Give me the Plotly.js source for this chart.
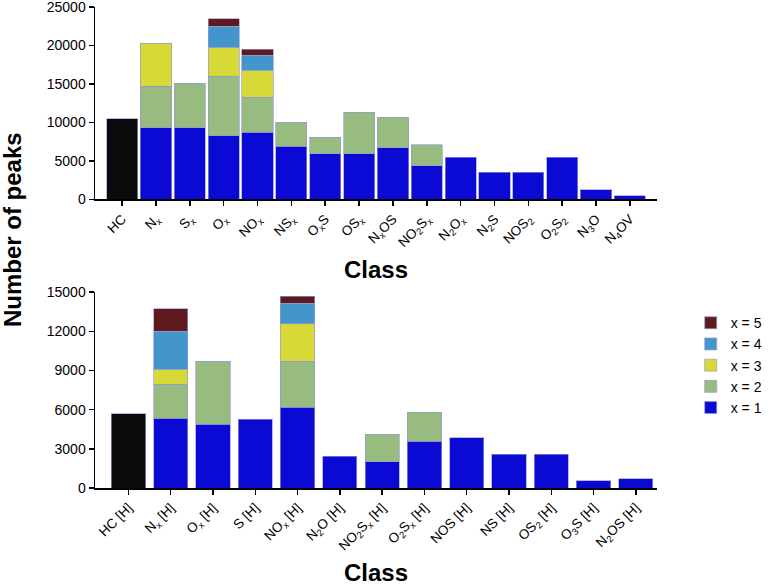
<!DOCTYPE html>
<html>
<head>
<meta charset="utf-8">
<script src="https://cdn.plot.ly/plotly-3.0.1.min.js"></script>
<style>
  body { margin: 0; background: #fff; }
  #root { width: 774px; height: 585px; }
</style>
</head>
<body>
<div id="root"></div>
<script>
// top panel: all classes
const topClasses = ['HC', 'N<sub>x</sub>', 'S<sub>x</sub>', 'O<sub>x</sub>', 'NO<sub>x</sub>', 'NS<sub>x</sub>',
    'O<sub>x</sub>S', 'OS<sub>x</sub>', 'N<sub>x</sub>OS', 'NO<sub>2</sub>S<sub>x</sub>', 'N<sub>2</sub>O<sub>x</sub>',
    'N<sub>2</sub>S', 'NOS<sub>2</sub>', 'O<sub>2</sub>S<sub>2</sub>', 'N<sub>3</sub>O', 'N<sub>4</sub>OV'];
const topHC = [10500, null, null, null, null, null, null, null, null, null, null, null, null, null, null, null];
const topX1 = [null, 9300, 9300, 8300, 8700, 6900, 5900, 5900, 6700, 4350, 5500, 3500, 3500, 5450, 1250, 500];
const topX2 = [null, 5400, 5800, 7700, 4600, 3100, 2150, 5400, 4000, 2750, null, null, null, null, null, null];
const topX3 = [null, 5600, null, 3800, 3450, null, null, null, null, null, null, null, null, null, null, null];
const topX4 = [null, null, null, 2700, 2000, null, null, null, null, null, null, null, null, null, null, null];
const topX5 = [null, null, null, 1000, 750, null, null, null, null, null, null, null, null, null, null, null];

// bottom panel: [H] classes
const botClasses = ['HC [H]', 'N<sub>x</sub> [H]', 'O<sub>x</sub> [H]', 'S [H]', 'NO<sub>x</sub> [H]', 'N<sub>2</sub>O [H]',
    'NO<sub>2</sub>S<sub>x</sub> [H]', 'O<sub>2</sub>S<sub>x</sub> [H]', 'NOS [H]', 'NS [H]', 'OS<sub>2</sub> [H]',
    'O<sub>3</sub>S [H]', 'N<sub>2</sub>OS [H]'];
const botHC = [5700, null, null, null, null, null, null, null, null, null, null, null, null];
const botX1 = [null, 5350, 4900, 5250, 6200, 2450, 2000, 3600, 3850, 2600, 2600, 550, 700];
const botX2 = [null, 2600, 4800, null, 3500, null, 2100, 2200, null, null, null, null, null];
const botX3 = [null, 1150, null, null, 2900, null, null, null, null, null, null, null, null];
const botX4 = [null, 2900, null, null, 1550, null, null, null, null, null, null, null, null];
const botX5 = [null, 1750, null, null, 550, null, null, null, null, null, null, null, null];

const seriesNames = ['x = 1', 'x = 2', 'x = 3', 'x = 4', 'x = 5'];
const seriesColors = ['#0a0ad4', '#98bb80', '#d7d936', '#4396cc', '#5f1a1e'];

const edge = {color: 'rgba(150,150,215,0.85)', width: 0.8};

function bars(x, y, name, color, xa, ya, w, legend) {
    return {
        type: 'bar', x: x, y: y, name: name,
        xaxis: xa, yaxis: ya, width: w,
        marker: {color: color, line: edge},
        showlegend: legend, legendgroup: name,
        hoverinfo: 'x+y+name'
    };
}

const topSeries = [topX1, topX2, topX3, topX4, topX5];
const botSeries = [botX1, botX2, botX3, botX4, botX5];

var data = [];
data.push(bars(topClasses, topHC, 'HC', '#0b0b0d', 'x', 'y', 0.92, false));
data.push(bars(botClasses, botHC, 'HC [H]', '#0b0b0d', 'x2', 'y2', 0.81, false));
for (let i = 0; i < 5; i++) {
    data.push(bars(topClasses, topSeries[i], seriesNames[i], seriesColors[i], 'x', 'y', 0.92, true));
    data.push(bars(botClasses, botSeries[i], seriesNames[i], seriesColors[i], 'x2', 'y2', 0.81, false));
}

const font = 'Liberation Sans, Arial, Helvetica, sans-serif';

const xCommon = {
    type: 'category', showline: true, linecolor: '#000', linewidth: 1.5,
    ticks: 'outside', ticklen: 5, tickwidth: 1.5, tickcolor: '#000',
    tickangle: -45, showgrid: false, zeroline: false,
    tickfont: {size: 13.5, color: '#000'}
};
const yCommon = {
    showline: true, linecolor: '#000', linewidth: 1.5,
    ticks: 'outside', ticklen: 5, tickwidth: 1.5, tickcolor: '#000',
    showgrid: false, zeroline: false, tickmode: 'linear', tick0: 0,
    tickformat: 'd', ticklabeloverflow: 'allow',
    tickfont: {size: 14, color: '#000'}
};

var layout = {
    width: 774, height: 585,
    margin: {l: 95, r: 100, t: 7, b: 97},
    paper_bgcolor: '#fff', plot_bgcolor: '#fff',
    font: {family: font, color: '#000'},
    barmode: 'stack',
    xaxis: Object.assign({}, xCommon, {domain: [0, 1], anchor: 'y', range: [-0.8, 15.8]}),
    yaxis: Object.assign({}, yCommon, {domain: [0.6, 1], anchor: 'x', range: [0, 25000.5], dtick: 5000}),
    xaxis2: Object.assign({}, xCommon, {domain: [0, 1], anchor: 'y2', range: [-0.79, 12.5]}),
    yaxis2: Object.assign({}, yCommon, {domain: [0, 0.407], anchor: 'x2', range: [0, 15000.3], dtick: 3000}),
    legend: {
        x: 1.06, xanchor: 'left', y: 0.376, yanchor: 'top',
        traceorder: 'reversed', font: {size: 14}, tracegroupgap: 0,
        bgcolor: 'rgba(0,0,0,0)'
    },
    annotations: [
        {text: '<b>Class</b>', xref: 'paper', yref: 'paper', x: 0.5, y: 0.4535,
         showarrow: false, font: {size: 24}, xanchor: 'center', yanchor: 'middle'},
        {text: '<b>Class</b>', xref: 'paper', yref: 'paper', x: 0.5, y: -0.176,
         showarrow: false, font: {size: 24}, xanchor: 'center', yanchor: 'middle'},
        {text: '<b>Number of peaks</b>', xref: 'paper', yref: 'paper', x: -0.147, y: 0.537,
         showarrow: false, textangle: -90, font: {size: 24}, xanchor: 'center', yanchor: 'middle'}
    ]
};

Plotly.newPlot('root', data, layout, {displayModeBar: false, staticPlot: true});
</script>
</body>
</html>
